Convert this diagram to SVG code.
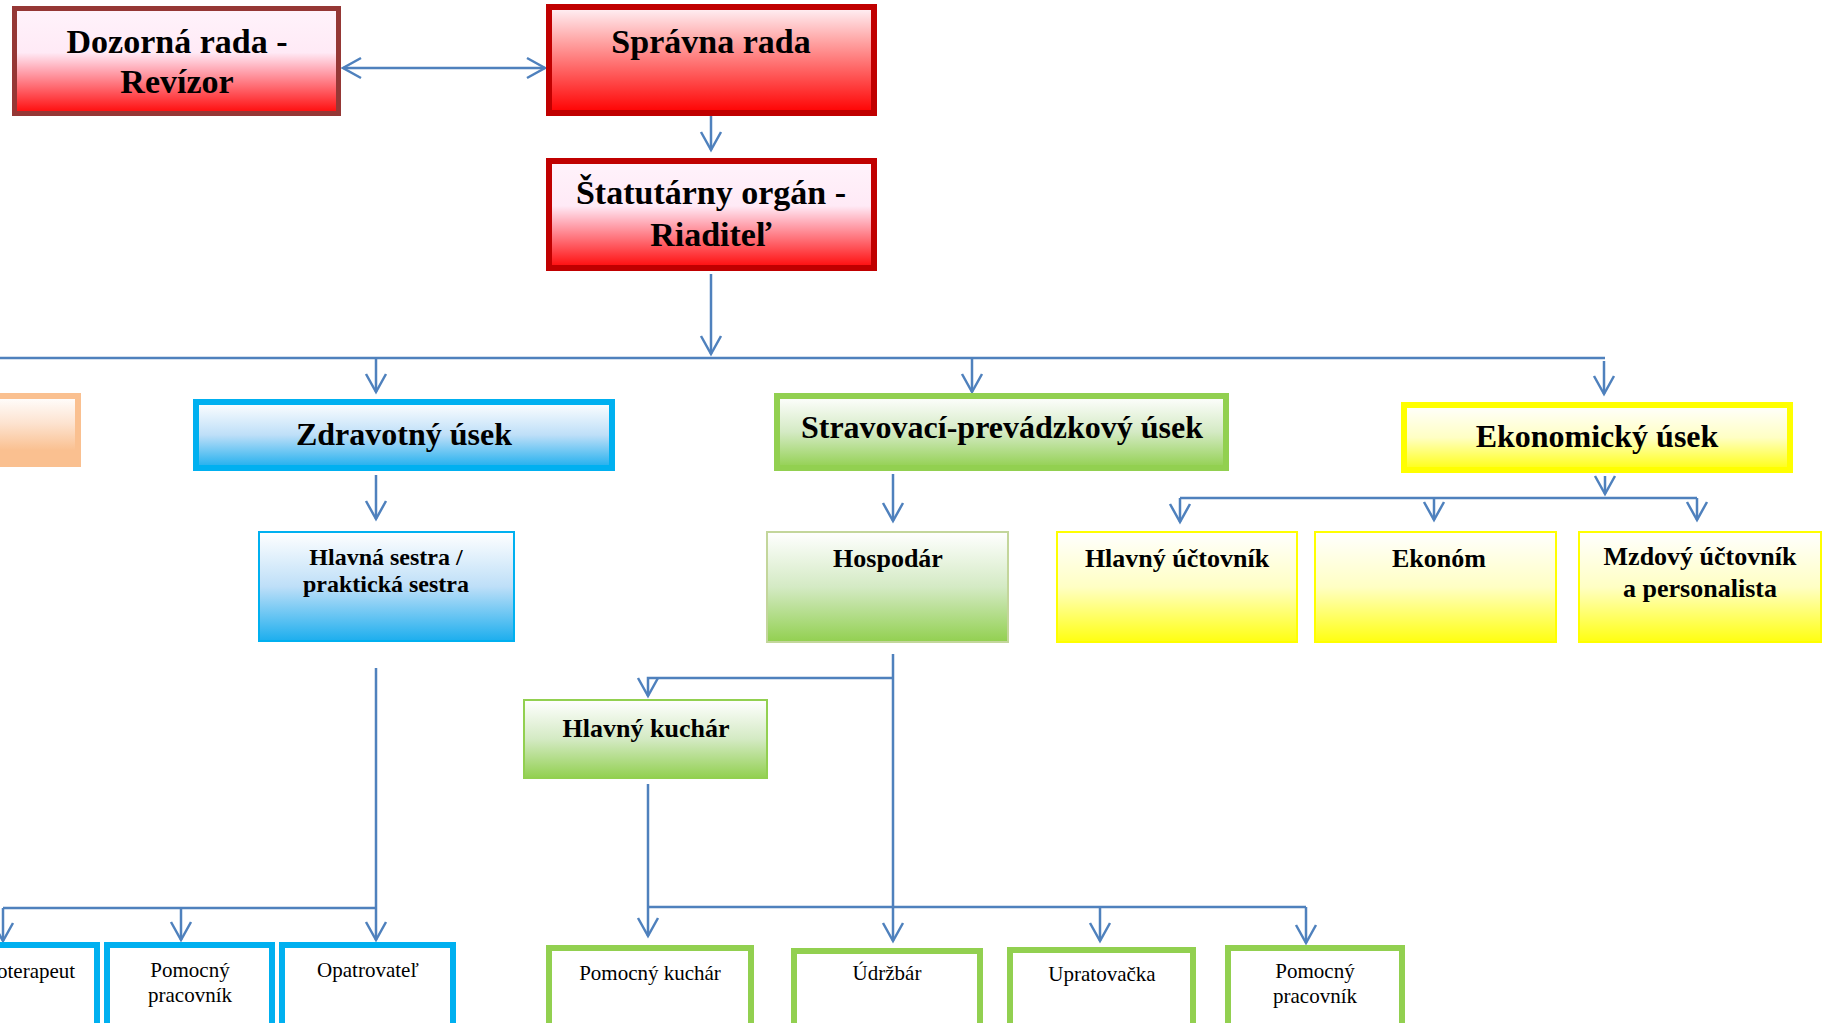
<svg xmlns="http://www.w3.org/2000/svg" width="1836" height="1023" viewBox="0 0 1836 1023">
<style>
.b{font-family:"Liberation Serif","Times New Roman",serif;font-weight:bold;fill:#000;text-anchor:middle}
.r{font-family:"Liberation Serif","Times New Roman",serif;fill:#000;text-anchor:middle;font-size:21px}
.c{fill:none;stroke:#4F81BD;stroke-width:2.5}
.ca{fill:none;stroke:#4F81BD;stroke-width:2.5;marker-end:url(#ah)}
</style>
<defs>
<marker id="ah" viewBox="-22 -12 26 24" refX="0" refY="0" markerWidth="26" markerHeight="24" markerUnits="userSpaceOnUse" orient="auto-start-reverse">
<path d="M-18,-10 L0,0 L-18,10" fill="none" stroke="#4F81BD" stroke-width="2.5"/>
</marker>
<linearGradient id="gRedA" x1="0" y1="0" x2="0" y2="1">
<stop offset="0" stop-color="#FFF3F8"/><stop offset="0.3" stop-color="#FFAAAA"/><stop offset="1" stop-color="#FF0000"/>
</linearGradient>
<linearGradient id="gRedB" x1="0" y1="0" x2="0" y2="1">
<stop offset="0" stop-color="#FFF3FB"/><stop offset="0.42" stop-color="#FFEAF6"/><stop offset="0.58" stop-color="#FFAAB6"/><stop offset="1" stop-color="#FF0808"/>
</linearGradient>
<linearGradient id="gBlue" x1="0" y1="0" x2="0" y2="1">
<stop offset="0" stop-color="#FFFFFF"/><stop offset="0.5" stop-color="#BEDFF8"/><stop offset="1" stop-color="#1CAEEE"/>
</linearGradient>
<linearGradient id="gGreen" x1="0" y1="0" x2="0" y2="1">
<stop offset="0" stop-color="#FFFFFF"/><stop offset="0.5" stop-color="#D4EAC4"/><stop offset="1" stop-color="#92D050"/>
</linearGradient>
<linearGradient id="gYellow" x1="0" y1="0" x2="0" y2="1">
<stop offset="0" stop-color="#FFFFFF"/><stop offset="0.5" stop-color="#FFFFC4"/><stop offset="1" stop-color="#FFFF10"/>
</linearGradient>
<linearGradient id="gOrange" x1="0" y1="0" x2="0" y2="1">
<stop offset="0" stop-color="#FFFFFF"/><stop offset="0.4" stop-color="#FDE3D0"/><stop offset="0.8" stop-color="#FAC090"/><stop offset="1" stop-color="#FAC090"/>
</linearGradient>
</defs>

<g id="connectors">
<line class="ca" x1="440" y1="68" x2="343" y2="68"/>
<line class="ca" x1="440" y1="68" x2="545" y2="68"/>
<line class="ca" x1="711" y1="113" x2="711" y2="150"/>
<line class="ca" x1="711" y1="274" x2="711" y2="354"/>
<line class="c" x1="0" y1="358" x2="1605" y2="358"/>
<line class="ca" x1="376" y1="358" x2="376" y2="392"/>
<line class="ca" x1="972" y1="358" x2="972" y2="392"/>
<line class="ca" x1="1604" y1="361" x2="1604" y2="394"/>
<line class="ca" x1="376" y1="475" x2="376" y2="519"/>
<line class="ca" x1="893" y1="474" x2="893" y2="521"/>
<line class="ca" x1="1605" y1="476" x2="1605" y2="494"/>
<line class="c" x1="1180" y1="498" x2="1697" y2="498"/>
<line class="ca" x1="1180" y1="498" x2="1180" y2="522"/>
<line class="ca" x1="1434" y1="498" x2="1434" y2="520"/>
<line class="ca" x1="1697" y1="498" x2="1697" y2="520"/>
<line class="ca" x1="376" y1="668" x2="376" y2="940"/>
<line class="c" x1="3" y1="908" x2="376" y2="908"/>
<line class="ca" x1="3" y1="908" x2="3" y2="941"/>
<line class="ca" x1="181" y1="908" x2="181" y2="940"/>
<line class="ca" x1="893" y1="654" x2="893" y2="941"/>
<polyline class="ca" points="893,678 648,678 648,696"/>
<line class="ca" x1="648" y1="784" x2="648" y2="936"/>
<polyline class="c" points="648,907 1306,907"/>
<line class="ca" x1="1100" y1="907" x2="1100" y2="941"/>
<line class="ca" x1="1306" y1="907" x2="1306" y2="943"/>
</g>

<g id="dozorna-rada">
<rect x="14.5" y="8.5" width="324" height="105" fill="url(#gRedB)" stroke="#953735" stroke-width="5"/>
<text class="b" x="177" y="53" font-size="34">Dozorná rada -</text>
<text class="b" x="177" y="93" font-size="34">Revízor</text>
</g>
<g id="spravna-rada">
<rect x="549" y="7" width="325" height="106" fill="url(#gRedA)" stroke="#C00000" stroke-width="6"/>
<text class="b" x="711" y="53" font-size="34">Správna rada</text>
</g>
<g id="statutarny-organ">
<rect x="549" y="161" width="325" height="107" fill="url(#gRedB)" stroke="#C00000" stroke-width="6"/>
<text class="b" x="711" y="204" font-size="34">Štatutárny orgán -</text>
<text class="b" x="711" y="246" font-size="34">Riaditeľ</text>
</g>

<g id="orange-usek">
<rect x="-10" y="396" width="88" height="68" fill="url(#gOrange)" stroke="#FAC090" stroke-width="6"/>
</g>
<g id="zdravotny-usek">
<rect x="196" y="402" width="416" height="66" fill="url(#gBlue)" stroke="#00B0F0" stroke-width="6"/>
<text class="b" x="404" y="445" font-size="32">Zdravotný úsek</text>
</g>
<g id="stravovaci-usek">
<rect x="777" y="396" width="449" height="72" fill="url(#gGreen)" stroke="#92D050" stroke-width="6"/>
<text class="b" x="1002" y="438" font-size="32">Stravovací-prevádzkový úsek</text>
</g>
<g id="ekonomicky-usek">
<rect x="1404" y="405" width="386" height="65" fill="url(#gYellow)" stroke="#FFFF00" stroke-width="6"/>
<text class="b" x="1597" y="447" font-size="32">Ekonomický úsek</text>
</g>

<g id="hlavna-sestra">
<rect x="259" y="532" width="255" height="109" fill="url(#gBlue)" stroke="#00B0F0" stroke-width="2"/>
<text class="b" x="386" y="565" font-size="24">Hlavná sestra /</text>
<text class="b" x="386" y="592" font-size="24">praktická sestra</text>
</g>
<g id="hospodar">
<rect x="767" y="532" width="241" height="110" fill="url(#gGreen)" stroke="#C3D69B" stroke-width="2"/>
<text class="b" x="888" y="567" font-size="26">Hospodár</text>
</g>
<g id="hlavny-uctovnik">
<rect x="1057" y="532" width="240" height="110" fill="url(#gYellow)" stroke="#FFFF00" stroke-width="2"/>
<text class="b" x="1177" y="567" font-size="26">Hlavný účtovník</text>
</g>
<g id="ekonom">
<rect x="1315" y="532" width="241" height="110" fill="url(#gYellow)" stroke="#FFFF00" stroke-width="2"/>
<text class="b" x="1439" y="567" font-size="26">Ekonóm</text>
</g>
<g id="mzdovy-uctovnik">
<rect x="1579" y="532" width="242" height="110" fill="url(#gYellow)" stroke="#FFFF00" stroke-width="2"/>
<text class="b" x="1700" y="565" font-size="26">Mzdový účtovník</text>
<text class="b" x="1700" y="597" font-size="26">a personalista</text>
</g>
<g id="hlavny-kuchar">
<rect x="524" y="700" width="243" height="78" fill="url(#gGreen)" stroke="#92D050" stroke-width="2"/>
<text class="b" x="646" y="737" font-size="26">Hlavný kuchár</text>
</g>

<g id="fyzioterapeut">
<rect x="-17" y="945" width="114" height="100" fill="#FFFFFF" stroke="#00B0F0" stroke-width="6"/>
<text class="r" x="-3" y="978" style="text-anchor:start">oterapeut</text>
</g>
<g id="pomocny-pracovnik-z">
<rect x="107" y="945" width="165" height="100" fill="#FFFFFF" stroke="#00B0F0" stroke-width="6"/>
<text class="r" x="190" y="977">Pomocný</text>
<text class="r" x="190" y="1002">pracovník</text>
</g>
<g id="opatrovatel">
<rect x="282" y="945" width="171" height="100" fill="#FFFFFF" stroke="#00B0F0" stroke-width="6"/>
<text class="r" x="368" y="977">Opatrovateľ</text>
</g>
<g id="pomocny-kuchar">
<rect x="549" y="948" width="202" height="100" fill="#FFFFFF" stroke="#92D050" stroke-width="6"/>
<text class="r" x="650" y="980">Pomocný kuchár</text>
</g>
<g id="udrzbar">
<rect x="794" y="951" width="186" height="100" fill="#FFFFFF" stroke="#92D050" stroke-width="6"/>
<text class="r" x="887" y="980">Údržbár</text>
</g>
<g id="upratovacka">
<rect x="1010" y="950" width="183" height="100" fill="#FFFFFF" stroke="#92D050" stroke-width="6"/>
<text class="r" x="1102" y="981">Upratovačka</text>
</g>
<g id="pomocny-pracovnik-s">
<rect x="1228" y="948" width="174" height="100" fill="#FFFFFF" stroke="#92D050" stroke-width="6"/>
<text class="r" x="1315" y="978">Pomocný</text>
<text class="r" x="1315" y="1003">pracovník</text>
</g>
</svg>
